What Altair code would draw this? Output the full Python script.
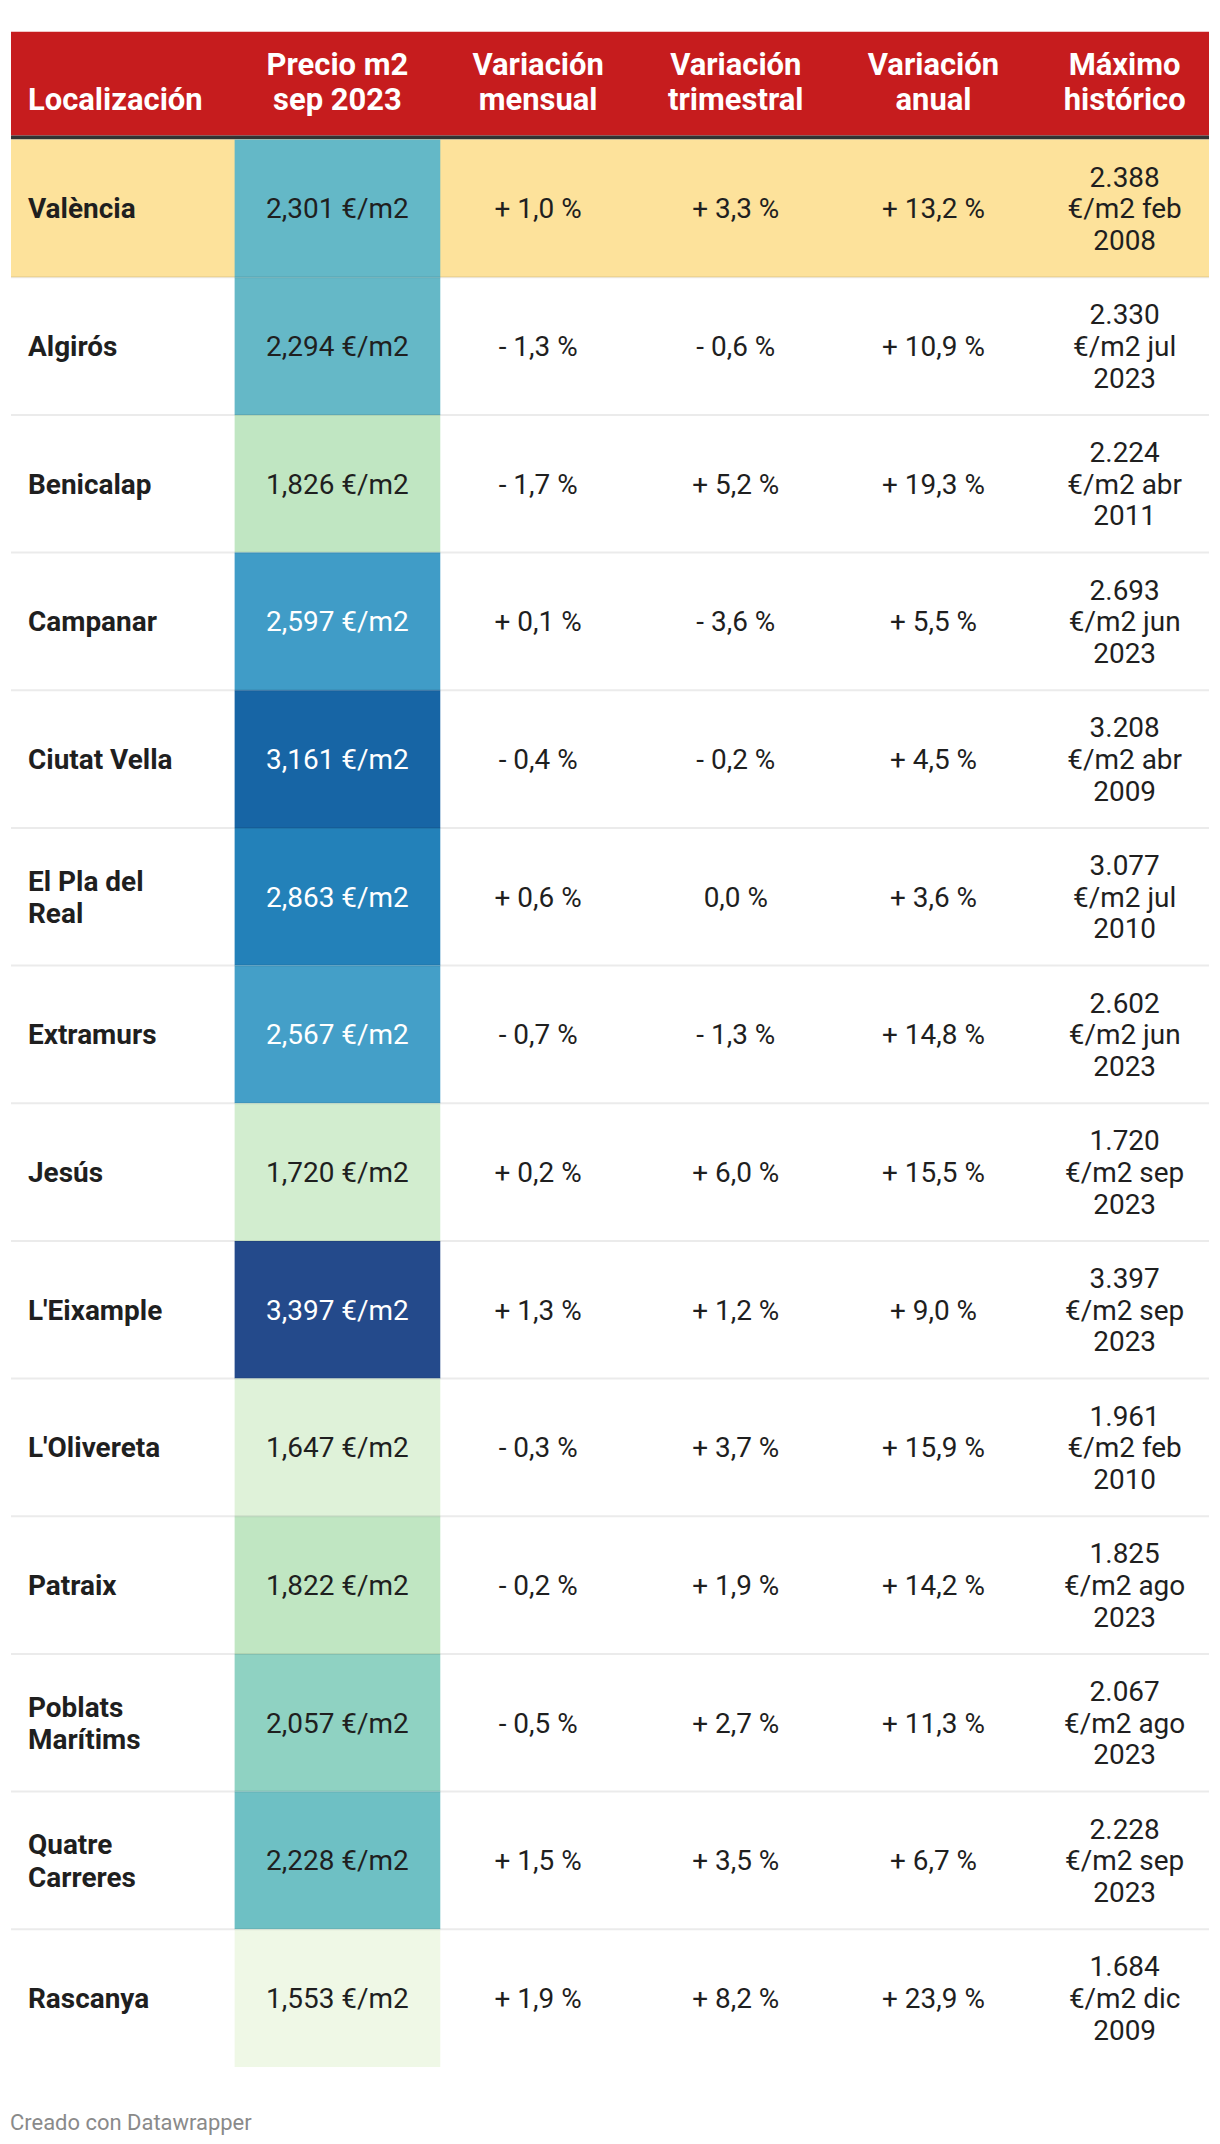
import textwrap
import altair as alt
import pandas as pd

# ---------------- data ----------------
localizacion = ["València", "Algirós", "Benicalap", "Campanar", "Ciutat Vella",
                "El Pla del Real", "Extramurs", "Jesús", "L'Eixample", "L'Olivereta",
                "Patraix", "Poblats Marítims", "Quatre Carreres", "Rascanya"]
precio_m2 = [2301, 2294, 1826, 2597, 3161, 2863, 2567, 1720, 3397, 1647, 1822, 2057, 2228, 1553]
var_mensual = [1.0, -1.3, -1.7, 0.1, -0.4, 0.6, -0.7, 0.2, 1.3, -0.3, -0.2, -0.5, 1.5, 1.9]
var_trimestral = [3.3, -0.6, 5.2, -3.6, -0.2, 0.0, -1.3, 6.0, 1.2, 3.7, 1.9, 2.7, 3.5, 8.2]
var_anual = [13.2, 10.9, 19.3, 5.5, 4.5, 3.6, 14.8, 15.5, 9.0, 15.9, 14.2, 11.3, 6.7, 23.9]
maximo_valor = [2388, 2330, 2224, 2693, 3208, 3077, 2602, 1720, 3397, 1961, 1825, 2067, 2228, 1684]
maximo_fecha = ["feb 2008", "jul 2023", "abr 2011", "jun 2023", "abr 2009", "jul 2010",
                "jun 2023", "sep 2023", "sep 2023", "feb 2010", "ago 2023", "ago 2023",
                "sep 2023", "dic 2009"]
destacado = ["València"]
encabezados = ["Localización", "Precio m2 sep 2023", "Variación mensual",
               "Variación trimestral", "Variación anual", "Máximo histórico"]
pie = "Creado con Datawrapper"

# ---------------- layout / style ----------------
W = 1200
HEADER_H = 104
RULE_H = 4
ROW_H = 137.9
BODY_H = ROW_H * len(localizacion)
col_keys = ["loc", "precio", "mensual", "trimestral", "anual", "maximo"]
col_pos = {"loc": 17, "precio": 327, "mensual": 528, "trimestral": 726, "anual": 924, "maximo": 1115.5}
precio_edges = (224, 430)
FONT = "Roboto"
TXT = "#1f1f1f"
RED = "#c61c1e"
HIGHLIGHT = "#fde29b"
LH_LABEL = 32.5
LH_MAX = 31.7
LH_HEAD = 35
color_stops = [1553, 1647, 1720, 1824, 2057, 2228, 2298, 2582, 2863, 3161, 3397]
color_range = ["#eff8e6", "#dff2d9", "#d2edcf", "#c0e6c2", "#8fd2c2", "#6ec0c4",
               "#64b8c7", "#429ec8", "#2381b9", "#1765a5", "#244a8b"]


def fmt_pct(v):
    sign = "+ " if v > 0 else ("- " if v < 0 else "")
    return sign + f"{abs(v):.1f}".replace(".", ",") + " %"


def wrap(s, n):
    return "\n".join(textwrap.wrap(s, n, break_long_words=False))


df = pd.DataFrame({
    "loc": localizacion,
    "etiqueta": [wrap(s, 12) for s in localizacion],
    "precio": precio_m2,
    "precio_txt": [f"{p:,} €/m2" for p in precio_m2],
    "mensual": [fmt_pct(v) for v in var_mensual],
    "trimestral": [fmt_pct(v) for v in var_trimestral],
    "anual": [fmt_pct(v) for v in var_anual],
    "maximo": [wrap(f"{v:,}".replace(",", ".") + " €/m2 " + f, 8)
               for v, f in zip(maximo_valor, maximo_fecha)],
})
df["lineas"] = df["etiqueta"].str.count("\n") + 1
df["destacado"] = df["loc"].isin(destacado)
df["ultimo"] = df["loc"] == localizacion[-1]

long = df.melt(id_vars=["loc"], value_vars=["mensual", "trimestral", "anual"],
               var_name="col", value_name="txt")
long["cx"] = long["col"].map(col_pos)

xs = alt.Scale(domain=[0, W], nice=False, zero=False)
ysc = alt.Scale(paddingInner=0, paddingOuter=0)
Y = alt.Y("loc:N", sort=localizacion, scale=ysc, axis=None)

base = alt.Chart(df)


def xcalc(chart, value):
    return chart.transform_calculate(cx=str(value))


CX = alt.X("cx:Q", scale=xs, axis=None)

hl = base.transform_filter(alt.datum.destacado).transform_calculate(
    x0="0", x1=str(W)
).mark_rect(color=HIGHLIGHT).encode(
    x=alt.X("x0:Q", scale=xs, axis=None), x2="x1:Q", y=Y)

precio_rect = base.transform_calculate(
    x0=str(precio_edges[0]), x1=str(precio_edges[1])
).mark_rect().encode(
    x=alt.X("x0:Q", scale=xs, axis=None), x2="x1:Q", y=Y,
    color=alt.Color("precio:Q", scale=alt.Scale(domain=color_stops, range=color_range,
                                                interpolate="rgb"), legend=None))

seps = base.transform_filter(~alt.datum.ultimo).transform_calculate(
    x0="0", x1=str(W)
).mark_rule(color="#000000", opacity=0.08, strokeWidth=2).encode(
    x=alt.X("x0:Q", scale=xs, axis=None), x2="x1:Q",
    y=alt.Y("loc:N", sort=localizacion, scale=ysc, axis=None, bandPosition=1))

label_style = dict(align="left", baseline="middle", font=FONT, fontSize=28,
                   fontWeight="bold", lineBreak="\n", lineHeight=LH_LABEL, color=TXT)
labels1 = xcalc(base.transform_filter(alt.datum.lineas == 1), col_pos["loc"]).mark_text(
    dy=2, **label_style).encode(x=CX, y=Y, text="etiqueta:N")
labels2 = xcalc(base.transform_filter(alt.datum.lineas == 2), col_pos["loc"]).mark_text(
    dy=2 - LH_LABEL / 2, **label_style).encode(x=CX, y=Y, text="etiqueta:N")

precio_txt = xcalc(base, col_pos["precio"]).mark_text(
    align="center", baseline="middle", font=FONT, fontSize=28, dy=2
).encode(
    x=CX, y=Y, text="precio_txt:N",
    color=alt.condition(alt.datum.precio > 2500, alt.value("#ffffff"), alt.value(TXT)))

otros = alt.Chart(long).mark_text(
    align="center", baseline="middle", font=FONT, fontSize=28, dy=2, color=TXT
).encode(x=CX, y=Y, text="txt:N")

maximo_txt = xcalc(base, col_pos["maximo"]).mark_text(
    align="center", baseline="middle", font=FONT, fontSize=28,
    lineBreak="\n", lineHeight=LH_MAX, dy=2 - LH_MAX, color=TXT
).encode(x=CX, y=Y, text="maximo:N")

body = alt.layer(hl, precio_rect, seps, labels1, labels2, precio_txt, otros,
                 maximo_txt).properties(width=W, height=BODY_H)

# ---------------- header ----------------
hdf = pd.DataFrame({"col": col_keys, "enc": [wrap(h, 10) for h in encabezados]})
hdf["cx"] = hdf["col"].map(col_pos)
hbase = alt.Chart(hdf)

one = alt.Chart(alt.Data(values=[{"a": 1}]))
red = one.transform_calculate(x0="0", x1=str(W)).mark_rect(color=RED).encode(
    x=alt.X("x0:Q", scale=xs, axis=None), x2="x1:Q",
    y=alt.value(0), y2=alt.value(HEADER_H))
dark = one.transform_calculate(x0="0", x1=str(W)).mark_rect(color="#333333").encode(
    x=alt.X("x0:Q", scale=xs, axis=None), x2="x1:Q",
    y=alt.value(HEADER_H), y2=alt.value(HEADER_H + RULE_H))

head_style = dict(baseline="bottom", font=FONT, fontSize=31, fontWeight="bold",
                  lineBreak="\n", lineHeight=LH_HEAD, color="#ffffff")
h_left = hbase.transform_filter(alt.datum.col == "loc").mark_text(
    align="left", **head_style
).encode(x=CX, y=alt.value(85.5), text="enc:N")
h_center = hbase.transform_filter(alt.datum.col != "loc").mark_text(
    align="center", **head_style
).encode(x=CX, y=alt.value(85.5 - LH_HEAD), text="enc:N")

header = alt.layer(red, dark, h_left, h_center).properties(width=W, height=HEADER_H + RULE_H)

chart = alt.vconcat(header, body, spacing=0, bounds="flush").properties(
    padding={"left": 2, "top": 22, "right": 2, "bottom": 8},
    title=alt.TitleParams(text=pie, orient="bottom", anchor="start", font=FONT,
                          fontSize=22, fontWeight="normal", color="#8a8a8a", offset=46),
    background="#ffffff",
).configure_view(stroke=None).resolve_scale(x="shared")

chart.save("out.html", embed_options={"renderer": "svg", "actions": False})
